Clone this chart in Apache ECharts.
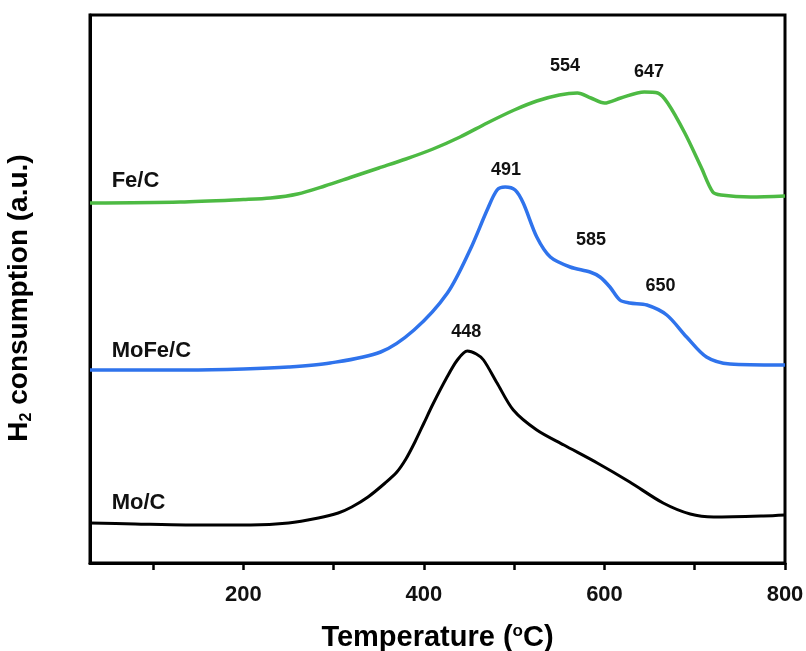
<!DOCTYPE html>
<html>
<head>
<meta charset="utf-8">
<script src="https://cdn.jsdelivr.net/npm/echarts@6/dist/echarts.min.js"></script>
<style>
  html, body { margin: 0; padding: 0; background: #fff; }
  #chart { width: 806px; height: 651px; }
</style>
</head>
<body>
<div id="chart"></div>
<script>
// H2-TPR profiles (temperature in °C, H2 consumption in arbitrary units, stacked)
const feT   = [30, 130, 200, 230, 260, 290, 320, 350, 380, 410, 440, 470, 500, 525, 550, 570, 585, 600, 618, 644, 659, 670, 689, 707, 720, 729, 762, 800];
const feV   = [36.0, 36.1, 36.35, 36.5, 36.9, 37.7, 38.6, 39.5, 40.4, 41.4, 42.6, 44.0, 45.3, 46.2, 46.8, 47.0, 46.5, 46.0, 46.5, 47.1, 47.0, 46.0, 43.0, 39.6, 37.1, 36.8, 36.6, 36.7];

const mofeT = [30, 136, 200, 250, 296, 352, 389, 426, 451, 470, 481, 490, 501, 510, 525, 540, 562, 584, 595, 606, 617, 628, 647, 669, 691, 713, 739, 795, 800];
const mofeV = [19.3, 19.3, 19.4, 19.6, 20.0, 21.1, 23.3, 27.0, 31.3, 35.3, 37.3, 37.6, 37.3, 36.0, 32.6, 30.6, 29.6, 29.1, 28.6, 27.6, 26.3, 26.0, 25.8, 24.8, 22.6, 20.6, 19.9, 19.8, 19.8];

const moT   = [30, 80, 136, 208, 250, 283, 305, 320, 338, 357, 370, 380, 390, 400, 410, 425, 437, 448, 458, 466, 481, 499, 525, 555, 592, 628, 665, 695, 721, 776, 800];
const moV   = [4.0, 3.9, 3.8, 3.8, 4.0, 4.5, 5.0, 5.6, 6.6, 8.0, 9.1, 10.4, 12.1, 14.0, 15.9, 18.5, 20.3, 21.2, 20.9, 20.3, 18.0, 15.3, 13.3, 11.8, 10.0, 8.1, 6.0, 4.9, 4.6, 4.7, 4.8];

// Reduction peak temperatures
const fePeaks   = [554, 647];
const mofePeaks = [491, 585, 650];
const moPeaks   = [448];

const sampleNames = ['Fe/C', 'MoFe/C', 'Mo/C'];

const xTickValues  = [100, 200, 300, 400, 500, 600, 700, 800];
const xLabelValues = [200, 400, 600, 800];

const FONT = 'Liberation Sans, Arial, Helvetica, sans-serif';

function valueAt(xs, ys, t) {
  for (let i = 1; i < xs.length; i++) {
    if (t <= xs[i]) {
      const f = (t - xs[i - 1]) / (xs[i] - xs[i - 1]);
      return ys[i - 1] + f * (ys[i] - ys[i - 1]);
    }
  }
  return ys[ys.length - 1];
}

function pairs(xs, ys) { return xs.map((x, i) => [x, ys[i]]); }

// per-label nudges in pixels for the peak annotations
const peakNudge = { 554: [2, -29], 647: [2, -20], 491: [0, -17], 585: [0, -32], 650: [11, -20], 448: [-1, -19] };

function peakMarks(xs, ys, peaks) {
  return peaks.map(p => ({
    coord: [p, valueAt(xs, ys, p)],
    label: { formatter: String(p), offset: peakNudge[p] }
  }));
}

function nameMark(xs, ys, name, dy) {
  return {
    coord: [54, valueAt(xs, ys, 54)],
    label: { formatter: name, align: 'left', offset: [0, dy], fontSize: 22 }
  };
}

function makeSeries(xs, ys, color, width, peaks, name, dy) {
  return {
    type: 'line',
    name: name,
    data: pairs(xs, ys),
    smooth: 0.3,
    symbol: 'none',
    lineStyle: { color: color, width: width },
    markPoint: {
      symbol: 'circle',
      symbolSize: 1,
      itemStyle: { color: 'rgba(0,0,0,0)' },
      label: {
        show: true, position: 'inside', color: '#111',
        fontFamily: FONT, fontWeight: 'bold', fontSize: 18
      },
      data: peakMarks(xs, ys, peaks).concat([nameMark(xs, ys, name, dy)])
    }
  };
}

const chart = echarts.init(document.getElementById('chart'), null, { renderer: 'canvas' });

chart.setOption({
  animation: false,
  backgroundColor: '#fff',
  grid: {
    left: 90, right: 21, top: 15, bottom: 88,
    containLabel: false,
    outerBoundsMode: 'none',
    show: true, borderColor: '#000', borderWidth: 3, backgroundColor: 'transparent'
  },
  xAxis: {
    type: 'value',
    min: 30, max: 800,
    name: 'Temperature ({sup|o}C)',
    nameLocation: 'middle',
    nameGap: 60,
    nameTextStyle: {
      fontFamily: FONT, fontWeight: 'bold', fontSize: 29, color: '#000',
      rich: { sup: { fontFamily: FONT, fontWeight: 'bold', fontSize: 17, verticalAlign: 'top', padding: [0, 0, 12, 0] } }
    },
    axisLine: { show: true, onZero: false, lineStyle: { color: '#000', width: 3 } },
    axisTick: { show: true, length: 7, lineStyle: { color: '#000', width: 2.5 }, customValues: xTickValues },
    axisLabel: {
      customValues: xLabelValues, margin: 21,
      fontFamily: FONT, fontWeight: 'bold', fontSize: 22, color: '#111'
    },
    splitLine: { show: false }
  },
  yAxis: {
    type: 'value',
    min: 0, max: 54.8,
    name: 'H{sub|2} consumption (a.u.)',
    nameLocation: 'middle',
    nameRotate: 90,
    nameGap: 55,
    nameTextStyle: {
      fontFamily: FONT, fontWeight: 'bold', fontSize: 28, color: '#000',
      padding: [0, 18, 0, 0],
      rich: { sub: { fontFamily: FONT, fontWeight: 'bold', fontSize: 16, padding: [15, 0, 0, 0] } }
    },
    axisLine: { show: true, lineStyle: { color: '#000', width: 3 } },
    axisTick: { show: false },
    axisLabel: { show: false },
    splitLine: { show: false }
  },
  series: [
    makeSeries(feT, feV, '#4dba43', 3.5, fePeaks, sampleNames[0], -22),
    makeSeries(mofeT, mofeV, '#2f73ec', 3.5, mofePeaks, sampleNames[1], -19),
    makeSeries(moT, moV, '#000000', 3, moPeaks, sampleNames[2], -21)
  ]
});
</script>
</body>
</html>
